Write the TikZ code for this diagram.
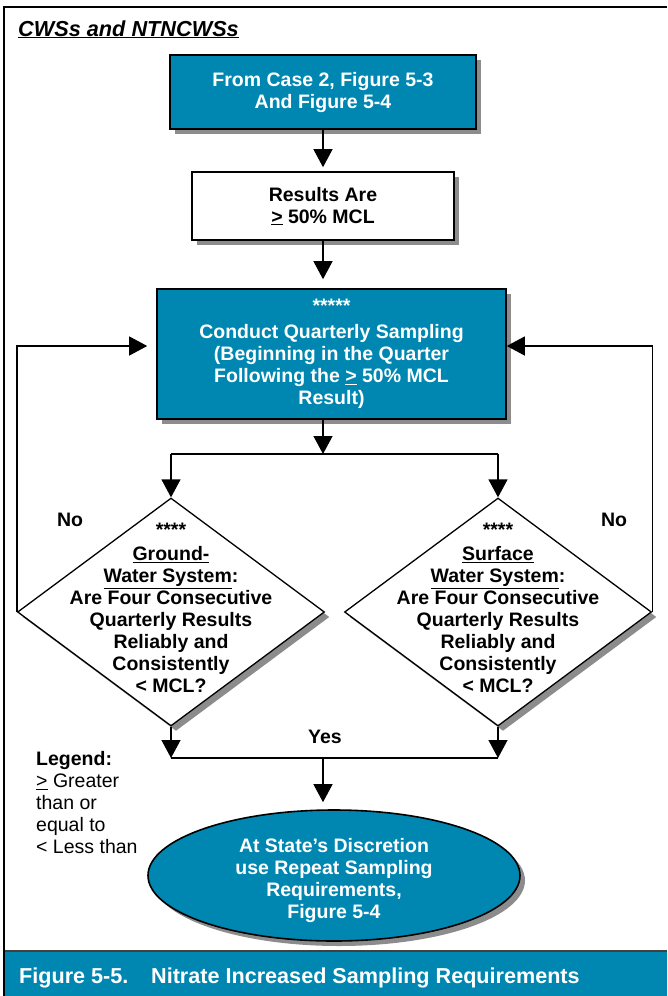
\documentclass[tikz,border=0pt]{standalone}
\usepackage{fontspec}
\setmainfont{Liberation Sans}
\usetikzlibrary{shapes.geometric,arrows.meta,shadows,calc}
\definecolor{flowteal}{HTML}{0087B1}
\begin{document}
\begin{tikzpicture}[x=1pt,y=-1pt,
  txt/.style={font=\fontsize{19.5}{22}\selectfont\bfseries, align=center, inner sep=0pt},
  shade/.style={drop shadow={shadow xshift=5pt,shadow yshift=-5pt,fill=black!45,opacity=1}},
  tealbox/.style={draw, line width=1.6pt, fill=flowteal, text=white, shade, txt},
  whitebox/.style={draw, line width=1.6pt, fill=white, shade, txt},
  decision/.style={diamond, draw, line width=1.3pt, fill=white, shade,
    minimum width=307pt, minimum height=228pt, inner sep=0pt},
  terminal/.style={ellipse, draw, line width=1.6pt, fill=flowteal, shade,
    minimum width=372pt, minimum height=131pt, inner sep=0pt},
  flow/.style={line width=1.3pt},
  arr/.style={flow, -{Triangle[length=18pt,width=19pt]}},
  lbl/.style={font=\fontsize{19.5}{22}\selectfont\bfseries, inner sep=0pt}
]
\useasboundingbox (0,0) rectangle (667,996);

% page frame and caption bar
\fill[flowteal] (4,952) rectangle (667,996);
\draw[line width=2pt, black!75] (4,951) -- (667,951);
\draw[line width=2.5pt] (4,996) -- (4,7) -- (667,7);

\node[anchor=base west, inner sep=0pt,
  font=\fontsize{21.7}{24}\selectfont\bfseries\itshape] (title) at (18,36)
  {\underline{CWSs and NTNCWSs}};

% process boxes
\node[tealbox, minimum width=306pt, minimum height=74pt] (box1) at (323,92)
  {From Case 2, Figure 5-3\\And Figure 5-4};
\node[whitebox, minimum width=262pt, minimum height=68pt] (box2) at (323,206)
  {Results Are\\\underline{>} 50\% MCL};
\node[tealbox, minimum width=349pt, minimum height=130pt] (box3) at (331.5,354)
  {*****\\[4pt]Conduct Quarterly Sampling\\(Beginning in the Quarter\\Following the \underline{>} 50\% MCL\\Result)};

% decisions
\node[decision] (gw) at (171,612) {};
\node[txt] (gwtext) at (171,608)
  {****\\[2pt]\underline{Ground-}\\\underline{Water System}:\\Are Four Consecutive\\Quarterly Results\\Reliably and\\Consistently\\< MCL?};
\node[decision] (sw) at (498,612) {};
\node[txt] (swtext) at (498,608)
  {****\\[2pt]\underline{Surface}\\\underline{Water System}:\\Are Four Consecutive\\Quarterly Results\\Reliably and\\Consistently\\< MCL?};

% end
\node[terminal] (ell) at (334,875.5) {};
\node[txt, text=white] (elltext) at (334,880)
  {At State’s Discretion\\use Repeat Sampling\\Requirements,\\Figure 5-4};

% legend and labels
\node[anchor=north west, align=left, inner sep=0pt,
  font=\fontsize{19.5}{22}\selectfont] (legend) at (36,751)
  {\textbf{Legend:}\\\underline{>} Greater\\than or\\equal to\\< Less than};
\node[lbl] (nol) at (70,520) {No};
\node[lbl] (nor) at (614,520) {No};
\node[lbl] (yes) at (325,737) {Yes};

\node[anchor=base west, inner sep=0pt, text=white,
  font=\fontsize{21.6}{24}\selectfont\bfseries] (caption) at (19,983)
  {\makebox[132pt][l]{Figure 5-5.}Nitrate Increased Sampling Requirements};

% connectors
\coordinate (jt) at (323,454);
\coordinate (jb) at (323,758);
\coordinate (lin) at ($(box3.west)+(0,-8)$);
\coordinate (rin) at ($(box3.east)+(0,-8)$);

\draw[arr, shorten >=4pt] (box1.south) -- (box2.north);
\draw[arr, shorten >=9pt] (box2.south) -- (box2.south |- box3.north);
\draw[arr] (box2.south |- box3.south) -- (jt);
\draw[flow] (gw.north |- jt) -- (sw.north |- jt);
\draw[arr] (gw.north |- jt) -- (gw.north);
\draw[arr] (sw.north |- jt) -- (sw.north);

\draw[arr, shorten >=9pt] (gw.west) |- (lin);
\draw[arr] (sw.east) |- (rin);

\draw[arr] (gw.south) -- (gw.south |- jb);
\draw[arr] (sw.south) -- (sw.south |- jb);
\draw[flow] (gw.south |- jb) -- (sw.south |- jb);
\draw[arr, shorten >=7pt] (jb) -- (jb |- ell.north);
\end{tikzpicture}
\end{document}
